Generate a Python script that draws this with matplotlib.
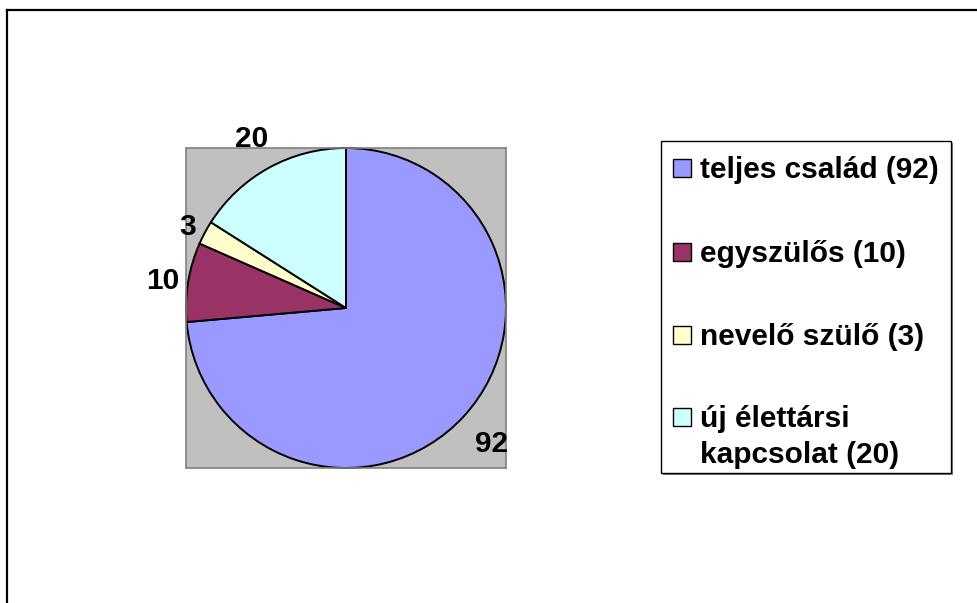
import matplotlib
matplotlib.use("Agg")
import matplotlib.pyplot as plt
from matplotlib.patches import Rectangle
from matplotlib.lines import Line2D
import numpy as np

categories = ["teljes család", "egyszülős", "nevelő szülő", "új élettársi\nkapcsolat"]
values = [92, 10, 3, 20]
colors = ["#9999FF", "#993366", "#FFFFCC", "#CCFFFF"]
label_dist = [1.23, 1.16, 1.12, 1.23]

plt.rcParams['font.family'] = ['Liberation Sans', 'DejaVu Sans']
FS = 21.5

W, H = 978, 603
fig = plt.figure(figsize=(W / 100, H / 100), dpi=100)
fig.patch.set_facecolor("white")

def fx(px):
    return px / W

def fy(py):
    return 1 - py / H

# outer chart border (partially off-canvas)
fig.add_artist(Line2D([fx(7), fx(7)], [fy(10), fy(605)], color="black", lw=1.6,
                      transform=fig.transFigure))
fig.add_artist(Line2D([fx(7), fx(980)], [fy(10), fy(10)], color="black", lw=1.6,
                      transform=fig.transFigure))

# plot area
ax = fig.add_axes([fx(186), fy(468), fx(506) - fx(186), fy(148) - fy(468)])
wedges, _ = ax.pie(values, colors=colors, startangle=90, counterclock=False,
                   radius=1.0, frame=True,
                   wedgeprops=dict(edgecolor="black", linewidth=1.4))
ax.set_facecolor("#C0C0C0")
for s in ax.spines.values():
    s.set_color("#808080")
    s.set_linewidth(1.2)
ax.set_xticks([])
ax.set_yticks([])
ax.set_xlim(-1.0, 1.0)
ax.set_ylim(-1.0, 1.0)
ax.set_aspect("equal")

for w, v, d in zip(wedges, values, label_dist):
    ang = np.deg2rad((w.theta1 + w.theta2) / 2)
    ax.text(d * np.cos(ang), d * np.sin(ang), str(v), ha="center", va="center_baseline",
            fontsize=FS, fontweight="bold", clip_on=False)

# legend (manual, Excel style)
fig.add_artist(Rectangle((fx(663), fy(475)), fx(951) - fx(661), fy(141) - fy(473),
                         transform=fig.transFigure, facecolor="#808080",
                         edgecolor="none", zorder=1))
fig.add_artist(Rectangle((fx(661), fy(473)), fx(951) - fx(661), fy(141) - fy(473),
                         transform=fig.transFigure, facecolor="white",
                         edgecolor="black", linewidth=1.0, zorder=2))

marker_y = [168, 252, 335, 417]
line_gap = 36
for name, v, c, my in zip(categories, values, colors, marker_y):
    fig.add_artist(Rectangle((fx(673), fy(my + 9)), fx(691) - fx(673), fy(my - 9) - fy(my + 9),
                             transform=fig.transFigure, facecolor=c,
                             edgecolor="black", linewidth=1.0, zorder=3))
    lines = f"{name} ({v})".split("\n")
    for i, ln in enumerate(lines):
        fig.text(fx(700), fy(my + 10 + i * line_gap), ln, ha="left", va="baseline",
                 fontsize=FS, fontweight="bold", zorder=4)

fig.savefig("out.png", dpi=100)
